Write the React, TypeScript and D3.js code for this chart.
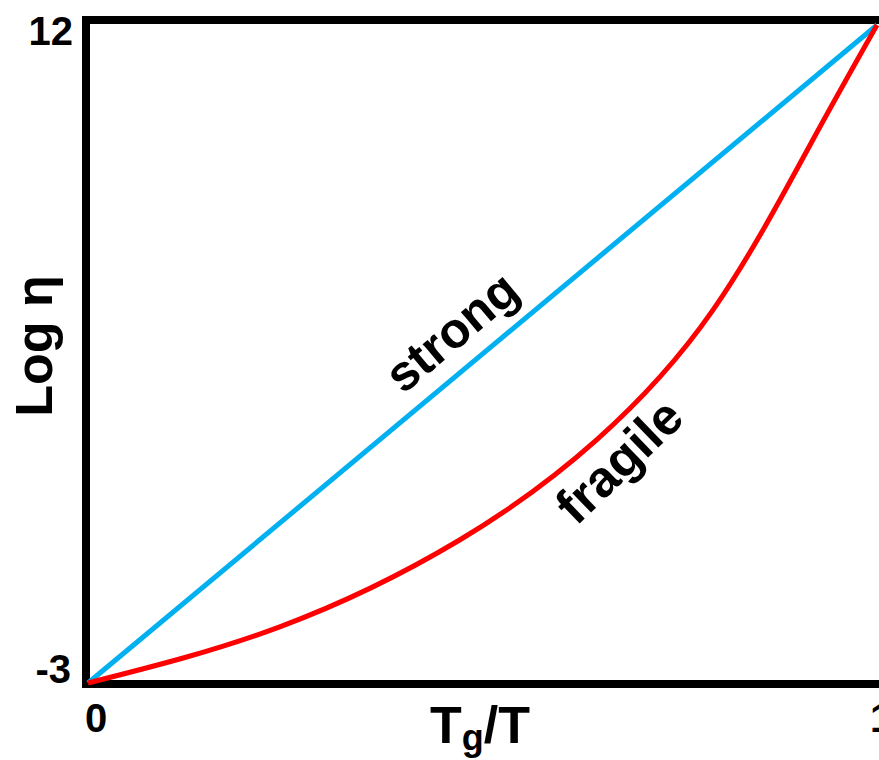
import React from "react";
import * as d3 from "d3";

const xDomain = [0, 1];
const yDomain = [-3, 12];
const xTickLabels = ["0", "1"];
const yTickLabels = ["-3", "12"];
const strongX = [0, 1];
const strongY = [-3, 12];
const fragileX = [0, 0.243, 0.471, 0.645, 0.792, 0.915, 1];
const fragileY = [-3, -1.72, 0.26, 2.55, 5.5, 9.26, 12];

export default function App() {
  const W = 879, H = 760;
  const x = d3.scaleLinear().domain(xDomain).range([88, 877]);
  const y = d3.scaleLinear().domain(yDomain).range([683, 25]);
  const line = d3.line<[number, number]>().x(d => x(d[0])).y(d => y(d[1]));
  const curve = d3.line<[number, number]>().x(d => x(d[0])).y(d => y(d[1])).curve(d3.curveNatural);
  const strong = strongX.map((v, i) => [v, strongY[i]] as [number, number]);
  const fragile = fragileX.map((v, i) => [v, fragileY[i]] as [number, number]);
  const font = "Liberation Sans, Arial, sans-serif";
  return (
    <svg width={W} height={H} style={{ position: "absolute", left: 0, top: 0, background: "#fff" }} fontFamily={font} fontWeight="bold">
      <rect x={86} y={20} width={797} height={664} fill="none" stroke="#000" strokeWidth={8} />
      <path d={line(strong) || ""} fill="none" stroke="#00b0f0" strokeWidth={5} />
      <path d={curve(fragile) || ""} fill="none" stroke="#ff0000" strokeWidth={5} />
      <text x={73} y={y(12) + 20} textAnchor="end" fontSize={40}>{yTickLabels[1]}</text>
      <text x={71} y={y(-3)} textAnchor="end" fontSize={40}>{yTickLabels[0]}</text>
      <text x={x(0) + 8} y={732} textAnchor="middle" fontSize={40}>{xTickLabels[0]}</text>
      <text x={x(1) - 7} y={732} textAnchor="start" fontSize={40}>{xTickLabels[1]}</text>
      <text transform="translate(52,346) rotate(-90)" textAnchor="middle" fontSize={52}>Log η</text>
      <text x={430} y={743} fontSize={52}>
        T<tspan fontSize={36} dy={7}>g</tspan><tspan dy={-7}>/T</tspan>
      </text>
      <text transform="translate(454,335) rotate(-40)" textAnchor="middle" dominantBaseline="middle" fontSize={50}>strong</text>
      <text transform="translate(622,464) rotate(-44)" textAnchor="middle" dominantBaseline="middle" fontSize={51}>fragile</text>
    </svg>
  );
}
